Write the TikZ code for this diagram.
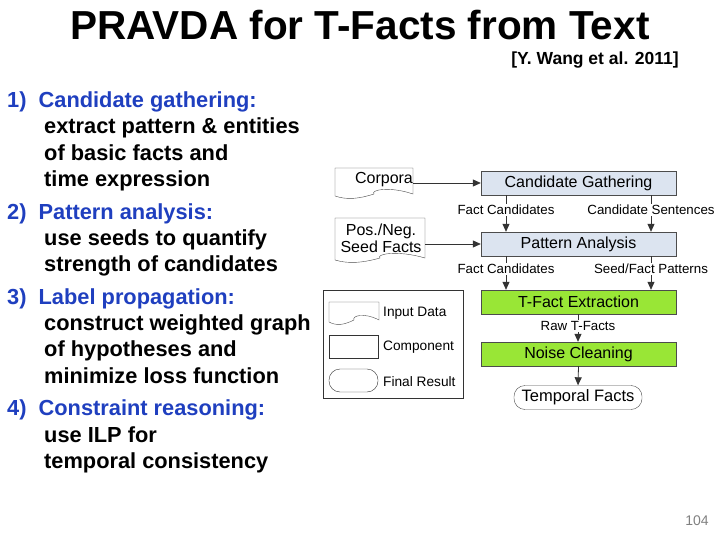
\documentclass[tikz,border=0pt]{standalone}
\usepackage{fontspec}
\setmainfont{Liberation Sans}
\usetikzlibrary{arrows.meta}
\definecolor{lb}{HTML}{DCE4F0}
\definecolor{gr}{HTML}{99E636}
\definecolor{tb}{HTML}{1F3FBF}
\tikzset{
 comp/.style={draw=black!70, minimum width=195pt, minimum height=24pt, font=\fontsize{16}{16}\selectfont, inner sep=0pt},
 lbl/.style={font=\fontsize{13.3}{13.3}\selectfont, inner sep=0pt},
 arr/.style={-{Triangle[length=8pt,width=7pt]}, draw=black!80, line width=0.8pt},
 leg/.style={font=\fontsize{13.7}{13.7}\selectfont, anchor=west, inner sep=0pt},
 itm/.style={anchor=base west, inner sep=0pt, font=\fontsize{21.8}{21.8}\selectfont\bfseries},
}
\newcommand{\docshape}[5]{% x1 y1 x2 y2 name
 \draw[black!70, fill=white] (#1,#2) -- (#3,#2) -- (#3,#4)
   .. controls ({#3-0.3*(#3-#1)},{#4-8}) and ({#3-0.55*(#3-#1)},{#4-4}) .. ({(#1+#3)/2},{#4})
   .. controls ({#1+0.3*(#3-#1)},{#4+5}) and ({#1+0.15*(#3-#1)},{#4+6}) .. (#1,{#4+2}) -- cycle;
 \coordinate (#5) at ({(#1+#3)/2},{(#2+#4)/2});
}
\begin{document}
\begin{tikzpicture}[x=1pt,y=-1pt]
\useasboundingbox (0,0) rectangle (720,540);
\node[font=\fontsize{40.5}{40.5}\selectfont\bfseries] (title) at (360,25) {PRAVDA for T-Facts from Text};
\node[font=\fontsize{17.5}{17.5}\selectfont\bfseries] (cite) at (595,60) {[Y. Wang et al. 2011]};
% list
\foreach \y/\t/\c [count=\i] in {
100/{1)\ \ Candidate gathering:}/tb, 126/{\hspace*{37pt}extract pattern \& entities}/black,
153/{\hspace*{37pt}of basic facts and}/black, 179/{\hspace*{37pt}time expression}/black,
212/{2)\ \ Pattern analysis:}/tb, 238/{\hspace*{37pt}use seeds to quantify}/black,
264/{\hspace*{37pt}strength of candidates}/black, 297/{3)\ \ Label propagation:}/tb,
323/{\hspace*{37pt}construct weighted graph}/black, 349/{\hspace*{37pt}of hypotheses and}/black,
376/{\hspace*{37pt}minimize loss function}/black, 408/{4)\ \ Constraint reasoning:}/tb,
435/{\hspace*{37pt}use ILP for}/black, 461/{\hspace*{37pt}temporal consistency}/black}
 \node[itm, text=\c] (l\i) at (7,\y+7.5) {\t};
% docs
\docshape{335}{168}{413}{194}{corp}
\node[font=\fontsize{16}{16}\selectfont] (corpt) at (384,180) {Corpora};
\docshape{335}{218}{425}{258}{seed}
\node[font=\fontsize{16}{17}\selectfont, align=center] (seedt) at (381,238) {Pos./Neg.\\Seed Facts};
% components
\node[comp, fill=lb] (cg) at (578.5,183) {Candidate Gathering};
\node[comp, fill=lb] (pa) at (578.5,244) {Pattern Analysis};
\node[comp, fill=gr] (tf) at (578.5,302) {T-Fact Extraction};
\node[comp, fill=gr] (nc) at (578.5,354) {Noise Cleaning};
\node[draw=black!70, rounded corners=11pt, minimum width=128pt, minimum height=24pt, inner sep=0pt, font=\fontsize{16.5}{16.5}\selectfont] (tfacts) at (578,397.5) {Temporal Facts};
\draw[arr] (cg.west -| 413,0) -- (cg.west);
\draw[arr] (pa.west -| 425,0) -- (pa.west);
\draw[arr] (cg.south -| 506,0) -- (pa.north -| 506,0);
\draw[arr] (cg.south -| 651,0) -- (pa.north -| 651,0);
\draw[arr] (pa.south -| 506,0) -- (tf.north -| 506,0);
\draw[arr] (pa.south -| 651,0) -- (tf.north -| 651,0);
\draw[arr] (tf.south -| 578,0) -- (nc.north -| 578,0);
\draw[arr] (nc.south) -- (tfacts.north);
\node[lbl, fill=white, inner sep=1pt] (fc1) at (506,210) {Fact Candidates};
\node[lbl, fill=white, inner sep=1pt] (cs) at (651,210) {Candidate Sentences};
\node[lbl, fill=white, inner sep=1pt] (fc2) at (506,269) {Fact Candidates};
\node[lbl, fill=white, inner sep=1pt] (sfp) at (651,269) {Seed/Fact Patterns};
\node[lbl, fill=white, inner sep=1pt] (raw) at (578,326) {Raw T-Facts};
% legend
\node[draw=black!80, minimum width=140pt, minimum height=108pt, inner sep=0pt] (legend) at (393,344) {};
\docshape{329}{302}{379}{320}{ld}
\node[draw=black!80, minimum width=49pt, minimum height=23pt, inner sep=0pt] (lc) at (353.5,346.5) {};
\node[draw=black!80, rounded corners=11pt, minimum width=49pt, minimum height=23pt, inner sep=0pt] (lr) at (353.5,380.5) {};
\node[leg] (ldt) at (383,313) {Input Data};
\node[leg] (lct) at (383,347) {Component};
\node[leg] (lrt) at (383,382) {Final Result};
\node[text=black!50, font=\fontsize{14}{14}\selectfont] (pg) at (697,521) {104};
\end{tikzpicture}
\end{document}
